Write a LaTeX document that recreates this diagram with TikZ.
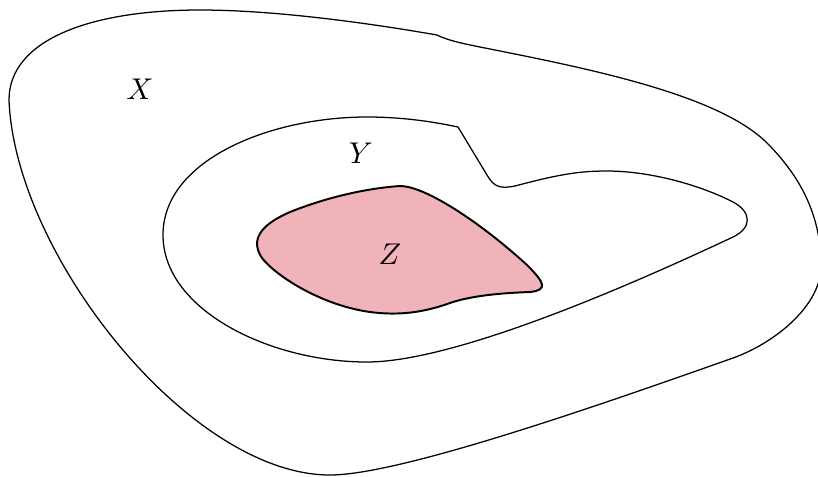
\documentclass[tikz,border=0pt]{standalone}
\definecolor{zpink}{RGB}{240,179,185}
\tikzset{
  region/.style={draw=black, line width=0.42pt, line join=round},
  zregion/.style={draw=black, fill=zpink, line width=0.65pt, line join=round},
  lbl/.style={inner sep=0pt}
}
\begin{document}
\begin{tikzpicture}[x=0.3333pt, y=-0.3333pt]
\useasboundingbox (0,0) rectangle (818,476);
% outer region X
\draw[region] (437,35)
  .. controls (447,40) and (460,43) .. (480,47)
  .. controls (580,67) and (717,93) .. (767,143)
  .. controls (800,176) and (821,215) .. (821,265)
  .. controls (822,305) and (775,343) .. (733,358)
  .. controls (600,405) and (400,475) .. (330,475)
  .. controls (190,475) and (15,255) .. (9,100)
  .. controls (9,40) and (90,10) .. (200,10)
  .. controls (280,10) and (380,25) .. (437,35) -- cycle;
% inner region Y
\draw[region] (458,127) -- (487,175)
  .. controls (494,187) and (500,189) .. (515,186)
  .. controls (560,174) and (580,171) .. (607,171)
  .. controls (650,171) and (700,185) .. (733,202)
  .. controls (752,212) and (752,228) .. (733,237)
  .. controls (650,276) and (460,362) .. (367,362)
  .. controls (270,362) and (163,310) .. (163,235)
  .. controls (163,160) and (270,117) .. (367,117)
  .. controls (400,117) and (430,121) .. (458,127) -- cycle;
% region Z
\draw[zregion] (400,186)
  .. controls (425,186) and (480,222) .. (527,265)
  .. controls (545,283) and (548,290) .. (530,292)
  .. controls (500,293) and (470,296) .. (450,303)
  .. controls (425,312) and (400,316) .. (370,312)
  .. controls (320,305) and (275,275) .. (262,258)
  .. controls (250,240) and (260,225) .. (290,212)
  .. controls (330,196) and (370,188) .. (400,186) -- cycle;
\node[lbl] (X) at (140,89) {$X$};
\node[lbl] (Y) at (361,153) {$Y$};
\node[lbl] (Z) at (390,254) {$Z$};
\end{tikzpicture}
\end{document}
